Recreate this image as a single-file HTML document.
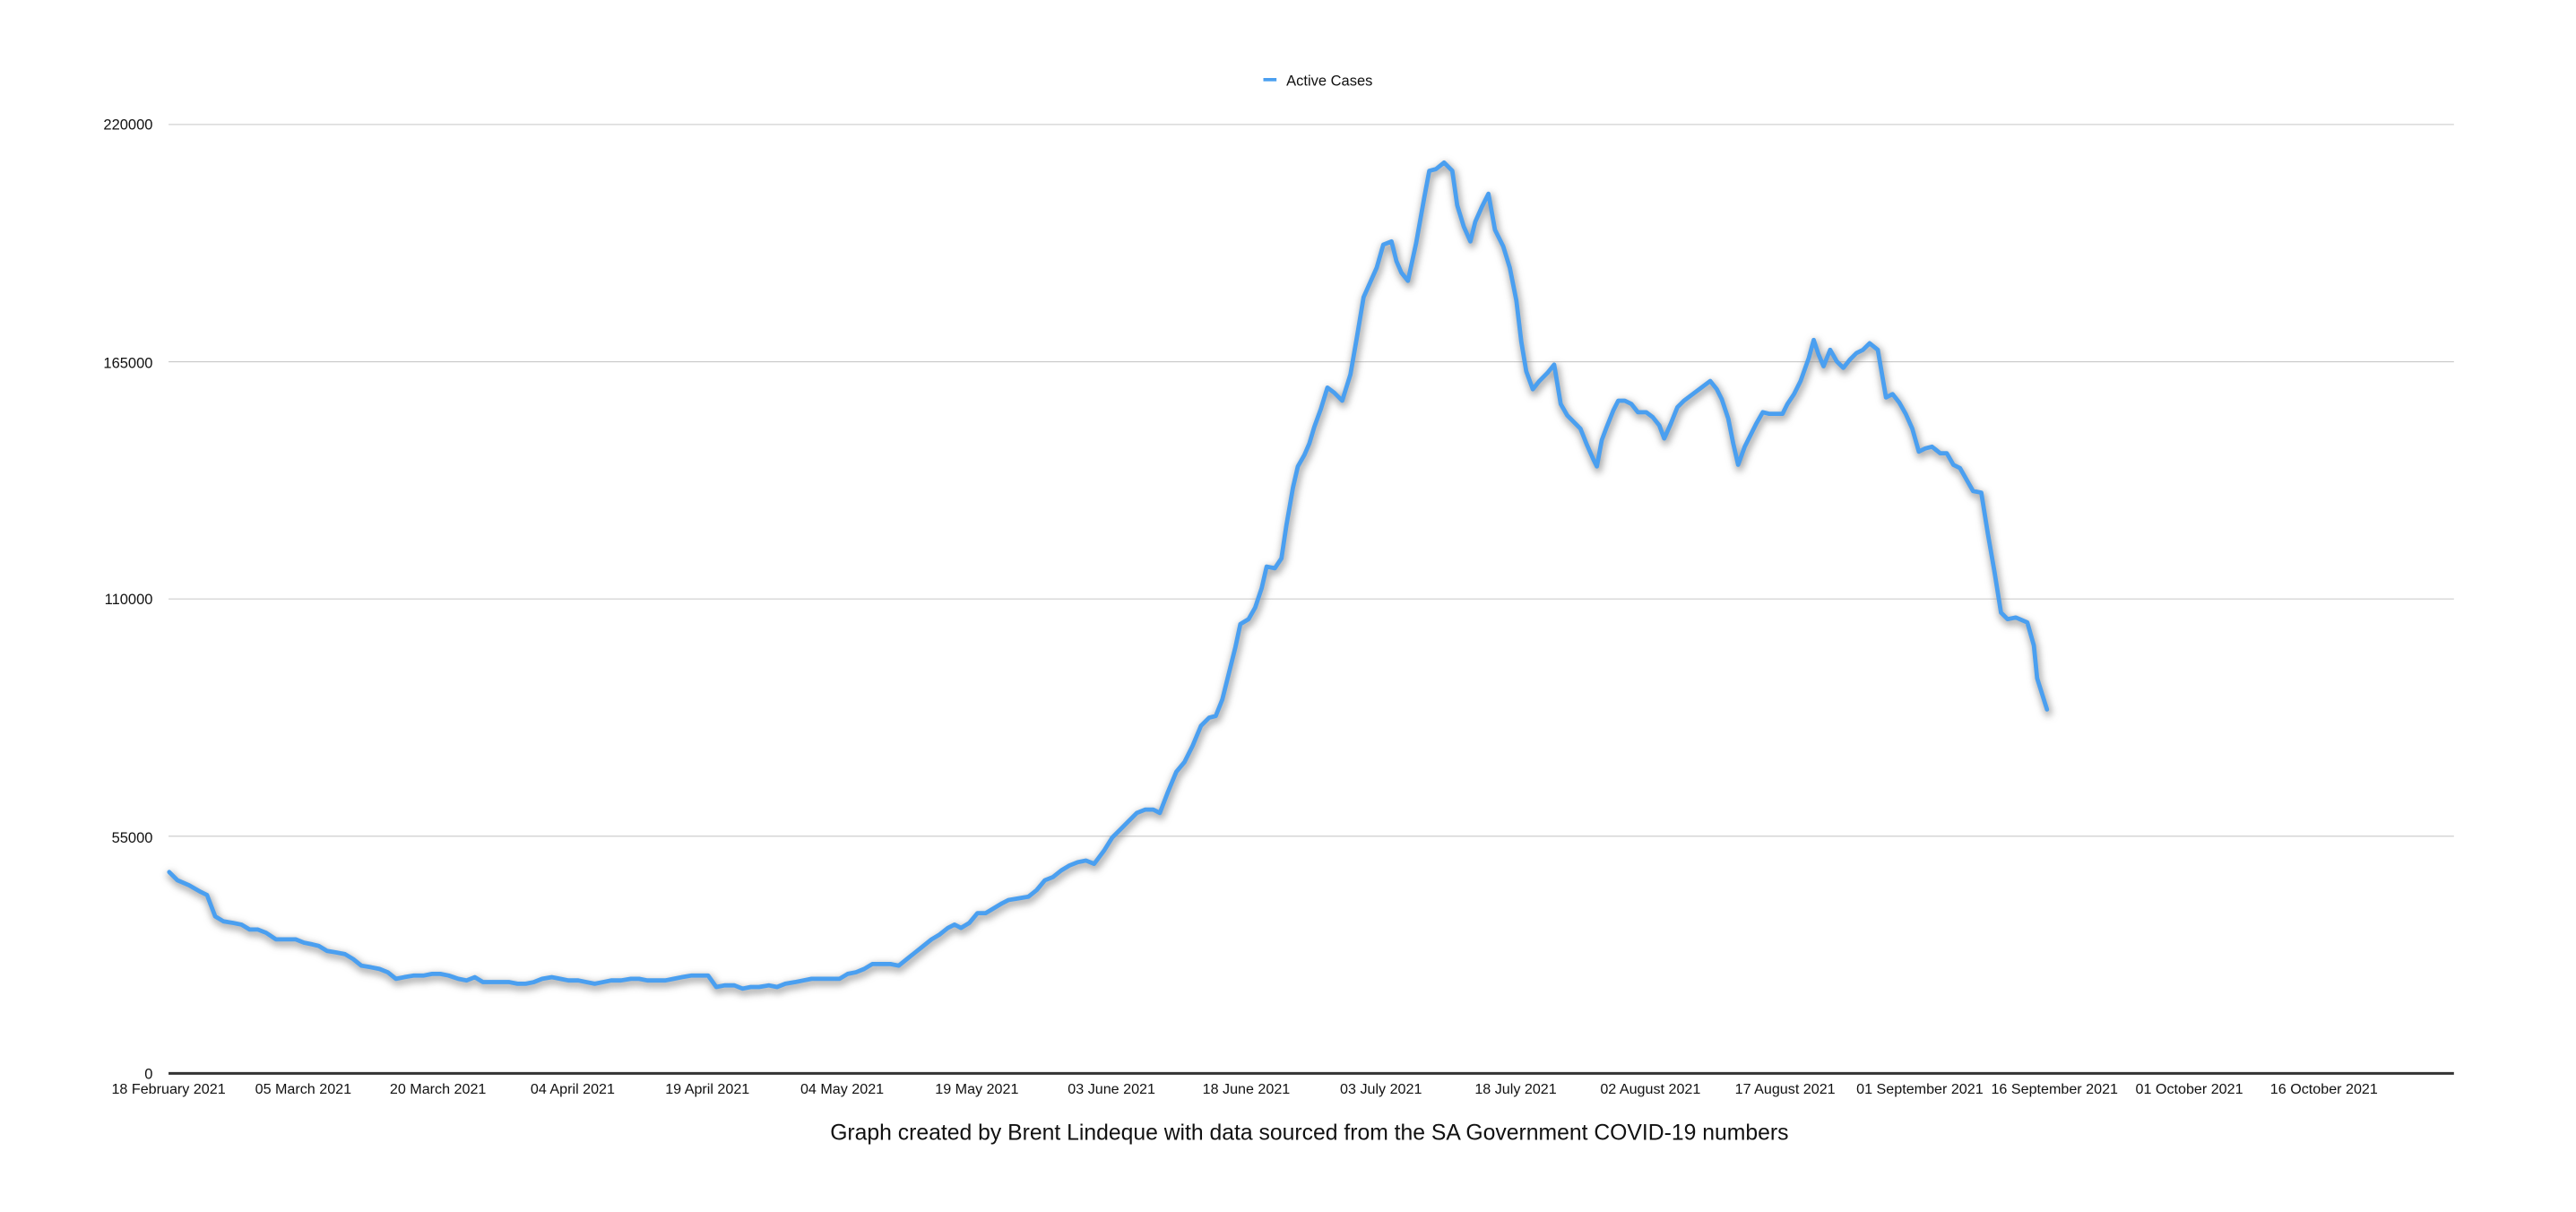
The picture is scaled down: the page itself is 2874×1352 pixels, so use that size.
<!DOCTYPE html>
<html><head><meta charset="utf-8"><style>
html,body{margin:0;padding:0;background:#fff;width:2874px;height:1352px;overflow:hidden}
svg{display:block}
text{font-family:"Liberation Sans",Arial,sans-serif;fill:#111}
</style></head><body>
<svg width="2874" height="1352" viewBox="0 0 1568 738" preserveAspectRatio="none" xmlns="http://www.w3.org/2000/svg">
<defs><filter id="sh" x="-10%" y="-10%" width="120%" height="120%"><feGaussianBlur stdDeviation="2.2"/></filter></defs>
<g stroke="#c8c8c8" stroke-width="0.6">
<line x1="102.6" y1="75.8" x2="1493.7" y2="75.8"/>
<line x1="102.6" y1="220.3" x2="1493.7" y2="220.3"/>
<line x1="102.6" y1="364.7" x2="1493.7" y2="364.7"/>
<line x1="102.6" y1="509.2" x2="1493.7" y2="509.2"/>
</g>
<line x1="102.6" y1="653.6" x2="1493.7" y2="653.6" stroke="#333" stroke-width="1.6"/>
<g font-size="9" text-anchor="end">
<text x="93" y="79">220000</text>
<text x="93" y="224">165000</text>
<text x="93" y="368">110000</text>
<text x="93" y="513">55000</text>
<text x="93" y="657">0</text>
</g>
<g font-size="8.8" text-anchor="middle">
<text x="102.6" y="666">18 February 2021</text>
<text x="184.6" y="666">05 March 2021</text>
<text x="266.6" y="666">20 March 2021</text>
<text x="348.6" y="666">04 April 2021</text>
<text x="430.6" y="666">19 April 2021</text>
<text x="512.6" y="666">04 May 2021</text>
<text x="594.6" y="666">19 May 2021</text>
<text x="676.6" y="666">03 June 2021</text>
<text x="758.6" y="666">18 June 2021</text>
<text x="840.6" y="666">03 July 2021</text>
<text x="922.6" y="666">18 July 2021</text>
<text x="1004.6" y="666">02 August 2021</text>
<text x="1086.6" y="666">17 August 2021</text>
<text x="1168.6" y="666">01 September 2021</text>
<text x="1250.6" y="666">16 September 2021</text>
<text x="1332.6" y="666">01 October 2021</text>
<text x="1414.6" y="666">16 October 2021</text>
</g>
<line x1="769" y1="48.5" x2="777" y2="48.5" stroke="#4a9ff0" stroke-width="2"/>
<text x="783" y="52" font-size="9">Active Cases</text>
<text x="797" y="694" font-size="13.5" text-anchor="middle">Graph created by Brent Lindeque with data sourced from the SA Government COVID-19 numbers</text>
<g fill="none" stroke-linejoin="round" stroke-linecap="round">
<polyline stroke="#888" stroke-opacity="0.7" stroke-width="4.5" filter="url(#sh)" transform="translate(0.8,1.8)" points="103,531 108,536 115,539 122,543 126,545 131,558 136,561 142,562 147,563 152,566 157,566 162,568 168,572 174,572 180,572 185,574 190,575 194,576 199,579 205,580 210,581 215,584 220,588 226,589 231,590 236,592 241,596 246,595 252,594 258,594 263,593 268,593 273,594 279,596 284,597 289,595 294,598 299,598 304,598 310,598 315,599 320,599 325,598 330,596 336,595 341,596 346,597 352,597 357,598 362,599 367,598 372,597 378,597 384,596 389,596 394,597 400,597 405,597 410,596 415,595 421,594 427,594 431,594 436,601 441,600 447,600 452,602 457,601 462,601 468,600 473,601 478,599 484,598 489,597 494,596 500,596 505,596 511,596 516,593 521,592 526,590 531,587 536,587 542,587 547,588 552,584 557,580 562,576 567,572 572,569 577,565 581,563 585,565 590,562 595,556 600,556 605,553 610,550 614,548 620,547 626,546 631,542 636,536 641,534 646,530 651,527 656,525 661,524 666,526 672,518 677,510 682,505 687,500 692,495 697,493 702,493 706,495 711,482 716,470 721,464 726,454 731,442 736,437 740,436 744,426 748,410 752,394 755,380 760,377 764,370 768,358 771,345 776,346 780,340 783,320 787,297 790,284 794,277 797,270 800,260 804,249 808,236 812,239 817,244 822,228 826,205 830,181 834,172 838,163 842,149 847,147 850,159 853,166 857,171 862,148 867,120 870,104 874,103 879,99 884,104 887,125 891,138 895,147 898,135 902,126 906,118 910,140 915,150 919,163 923,183 926,208 929,226 933,237 937,232 942,227 946,222 950,246 954,253 958,257 962,261 966,271 970,280 972,284 975,268 978,260 982,250 985,244 989,244 993,246 997,251 1002,251 1006,254 1010,259 1013,267 1017,258 1021,248 1025,244 1029,241 1033,238 1037,235 1041,232 1045,237 1048,243 1052,255 1055,270 1058,283 1062,272 1066,264 1069,258 1073,251 1077,252 1081,252 1085,252 1088,246 1092,240 1096,232 1101,218 1104,207 1107,216 1110,223 1114,213 1118,220 1122,224 1126,219 1130,215 1134,213 1138,209 1143,213 1148,242 1152,240 1156,245 1160,252 1164,261 1168,275 1172,273 1176,272 1181,276 1185,276 1189,283 1193,285 1197,292 1201,299 1206,300 1210,325 1214,348 1218,373 1222,377 1227,376 1234,379 1238,393 1240,413 1246,432"/>
<polyline stroke="#4a9ff0" stroke-width="2.6" points="103,531 108,536 115,539 122,543 126,545 131,558 136,561 142,562 147,563 152,566 157,566 162,568 168,572 174,572 180,572 185,574 190,575 194,576 199,579 205,580 210,581 215,584 220,588 226,589 231,590 236,592 241,596 246,595 252,594 258,594 263,593 268,593 273,594 279,596 284,597 289,595 294,598 299,598 304,598 310,598 315,599 320,599 325,598 330,596 336,595 341,596 346,597 352,597 357,598 362,599 367,598 372,597 378,597 384,596 389,596 394,597 400,597 405,597 410,596 415,595 421,594 427,594 431,594 436,601 441,600 447,600 452,602 457,601 462,601 468,600 473,601 478,599 484,598 489,597 494,596 500,596 505,596 511,596 516,593 521,592 526,590 531,587 536,587 542,587 547,588 552,584 557,580 562,576 567,572 572,569 577,565 581,563 585,565 590,562 595,556 600,556 605,553 610,550 614,548 620,547 626,546 631,542 636,536 641,534 646,530 651,527 656,525 661,524 666,526 672,518 677,510 682,505 687,500 692,495 697,493 702,493 706,495 711,482 716,470 721,464 726,454 731,442 736,437 740,436 744,426 748,410 752,394 755,380 760,377 764,370 768,358 771,345 776,346 780,340 783,320 787,297 790,284 794,277 797,270 800,260 804,249 808,236 812,239 817,244 822,228 826,205 830,181 834,172 838,163 842,149 847,147 850,159 853,166 857,171 862,148 867,120 870,104 874,103 879,99 884,104 887,125 891,138 895,147 898,135 902,126 906,118 910,140 915,150 919,163 923,183 926,208 929,226 933,237 937,232 942,227 946,222 950,246 954,253 958,257 962,261 966,271 970,280 972,284 975,268 978,260 982,250 985,244 989,244 993,246 997,251 1002,251 1006,254 1010,259 1013,267 1017,258 1021,248 1025,244 1029,241 1033,238 1037,235 1041,232 1045,237 1048,243 1052,255 1055,270 1058,283 1062,272 1066,264 1069,258 1073,251 1077,252 1081,252 1085,252 1088,246 1092,240 1096,232 1101,218 1104,207 1107,216 1110,223 1114,213 1118,220 1122,224 1126,219 1130,215 1134,213 1138,209 1143,213 1148,242 1152,240 1156,245 1160,252 1164,261 1168,275 1172,273 1176,272 1181,276 1185,276 1189,283 1193,285 1197,292 1201,299 1206,300 1210,325 1214,348 1218,373 1222,377 1227,376 1234,379 1238,393 1240,413 1246,432"/>
</g>
</svg>
</body></html>
